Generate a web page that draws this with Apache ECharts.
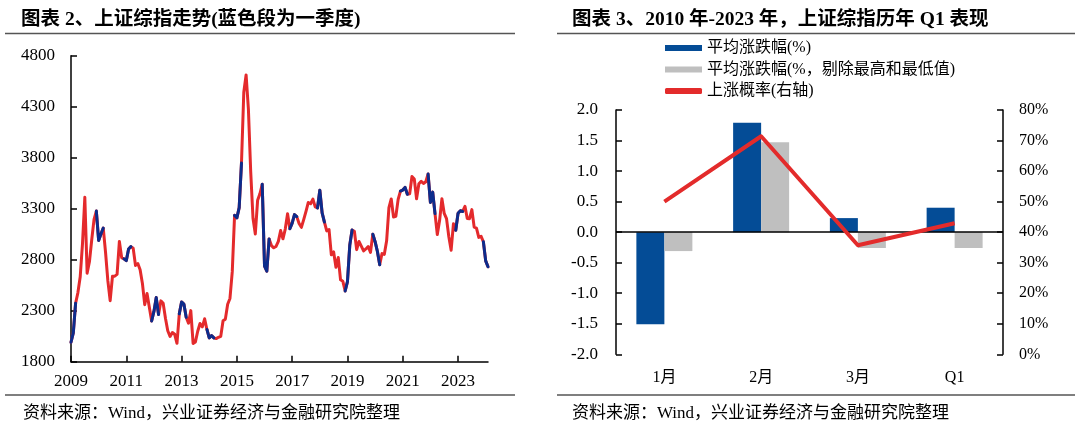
<!DOCTYPE html>
<html>
<head>
<meta charset="utf-8">
<script src="https://cdn.jsdelivr.net/npm/echarts@6/dist/echarts.min.js"></script>
<style>
html,body{margin:0;padding:0;background:#fff;}
#c{width:1080px;height:426px;}
</style>
</head>
<body>
<div id="c"></div>
<script>
// ---------- Left chart data: Shanghai Composite monthly closes, Jan 2009 .. Jan 2024 (+ early Feb 2024) ----------
const shIndex = [
  1990.66, 2082.85, 2373.21, 2477.57, 2632.93, 2959.36, 3412.06, 2667.75, 2779.43, 2995.85, 3195.30, 3277.14, // 2009
  2989.29, 3051.94, 3109.10, 2870.61, 2592.15, 2398.37, 2637.50, 2638.80, 2655.66, 2978.84, 2820.18, 2808.08, // 2010
  2790.69, 2905.05, 2928.11, 2911.51, 2743.47, 2762.08, 2701.73, 2567.34, 2359.22, 2468.25, 2333.41, 2199.42, // 2011
  2292.61, 2428.49, 2262.79, 2396.32, 2372.23, 2225.43, 2103.63, 2047.52, 2086.17, 2068.88, 1980.12, 2269.13, // 2012
  2385.42, 2365.59, 2236.62, 2177.91, 2300.60, 1979.21, 1993.80, 2098.38, 2174.67, 2141.61, 2220.50, 2115.98, // 2013
  2033.08, 2056.30, 2033.31, 2026.36, 2039.21, 2048.33, 2201.56, 2217.20, 2363.87, 2420.18, 2682.84, 3234.68, // 2014
  3210.36, 3310.30, 3747.90, 4441.66, 4611.74, 4277.22, 3663.73, 3205.99, 3052.78, 3382.56, 3445.40, 3539.18, // 2015
  2737.60, 2687.98, 3003.92, 2938.32, 2916.62, 2929.61, 2979.34, 3085.49, 3004.70, 3100.49, 3250.03, 3103.64, // 2016
  3159.17, 3241.73, 3222.51, 3154.66, 3117.18, 3192.43, 3273.03, 3360.81, 3348.94, 3393.34, 3317.19, 3307.17, // 2017
  3480.83, 3259.41, 3168.90, 3082.23, 3095.47, 2847.42, 2876.40, 2725.25, 2821.35, 2602.78, 2588.19, 2493.90, // 2018
  2584.57, 2940.95, 3090.76, 3078.34, 2898.70, 2978.88, 2932.51, 2886.24, 2905.19, 2929.06, 2871.98, 3050.12, // 2019
  2976.53, 2880.30, 2750.30, 2860.08, 2852.35, 2984.67, 3310.01, 3395.68, 3218.05, 3224.53, 3391.76, 3473.07, // 2020
  3483.07, 3509.08, 3441.91, 3446.86, 3615.48, 3591.20, 3397.36, 3543.94, 3568.17, 3547.34, 3563.89, 3639.78, // 2021
  3361.44, 3462.31, 3252.20, 3047.06, 3186.43, 3398.62, 3253.24, 3202.14, 3024.39, 2893.48, 3151.34, 3089.26, // 2022
  3255.67, 3279.61, 3272.86, 3323.27, 3204.56, 3202.06, 3291.04, 3119.88, 3110.48, 3018.77, 3029.67, 2974.93, // 2023
  2788.55, 2730.15                                                                                             // 2024
];
const leftYTicks = [1800, 2300, 2800, 3300, 3800, 4300, 4800];
const leftXTickYears = ['2009', '2011', '2013', '2015', '2017', '2019', '2021', '2023'];

// ---------- Right chart data ----------
const q1Categories = ['1月', '2月', '3月', 'Q1'];
const avgChange = [-1.51, 1.79, 0.23, 0.40];
const avgChangeTrimmed = [-0.31, 1.47, -0.26, -0.26];
const upProbability = [50.0, 71.4, 35.7, 42.9];
const rightLeftTicks = [-2.0, -1.5, -1.0, -0.5, 0.0, 0.5, 1.0, 1.5, 2.0];
const rightRightTicks = [0, 10, 20, 30, 40, 50, 60, 70, 80];

// ---------- build categories / masks ----------
const months = [];
for (let i = 0; i < shIndex.length; i++) {
  if (i < 181) {
    const y = 2009 + Math.floor(i / 12);
    const m = (i % 12) + 1;
    months.push(y + '-' + (m < 10 ? '0' + m : m));
  } else {
    months.push('2024-02-02');
  }
}
function monthOf(i) { return i < 181 ? i % 12 : 1; }
const q1Series = shIndex.map((v, i) => {
  const m = monthOf(i);
  return (m === 11 || m <= 2) ? v : null;
});

const serif = '"Liberation Serif", "Times New Roman", "Noto Sans CJK SC", serif';
const RED = '#E42A2C';
const NAVY = '#0C2C8C';

const chart = echarts.init(document.getElementById('c'), null, {renderer: 'canvas'});
chart.setOption({
  animation: false,
  backgroundColor: '#fff',
  textStyle: {fontFamily: serif, color: '#000'},
  title: [
    {text: '图表 2、上证综指走势(蓝色段为一季度)', left: 16, top: 5,
     textStyle: {fontFamily: serif, fontSize: 19.5, fontWeight: 'bold', color: '#000'}},
    {text: '图表 3、2010 年-2023 年，上证综指历年 Q1 表现', left: 567, top: 5,
     textStyle: {fontFamily: serif, fontSize: 19.5, fontWeight: 'bold', color: '#000'}},
    {text: '资料来源：Wind，兴业证券经济与金融研究院整理', left: 18, top: 400,
     textStyle: {fontFamily: serif, fontSize: 17, fontWeight: 'normal', color: '#000'}},
    {text: '资料来源：Wind，兴业证券经济与金融研究院整理', left: 567, top: 400,
     textStyle: {fontFamily: serif, fontSize: 17, fontWeight: 'normal', color: '#000'}}
  ],
  graphic: [
    {type: 'line', shape: {x1: 5, y1: 33.5, x2: 515, y2: 33.5}, style: {stroke: '#555', lineWidth: 1.5}, silent: true},
    {type: 'line', shape: {x1: 557, y1: 33.5, x2: 1075, y2: 33.5}, style: {stroke: '#555', lineWidth: 1.5}, silent: true},
    {type: 'line', shape: {x1: 5, y1: 395, x2: 515, y2: 395}, style: {stroke: '#555', lineWidth: 1.5}, silent: true},
    {type: 'line', shape: {x1: 557, y1: 395, x2: 1075, y2: 395}, style: {stroke: '#555', lineWidth: 1.5}, silent: true}
  ],
  legend: {
    orient: 'vertical', left: 660, top: 35,
    itemWidth: 37, itemHeight: 6, itemGap: 5.5,
    textStyle: {fontFamily: serif, fontSize: 16, color: '#000'},
    data: [
      {name: '平均涨跌幅(%)', icon: 'rect'},
      {name: '平均涨跌幅(%，剔除最高和最低值)', icon: 'rect'},
      {name: '上涨概率(右轴)', icon: 'roundRect'}
    ],
    selectedMode: false
  },
  grid: [
    {left: 71, top: 55.7, width: 417, height: 306, outerBoundsMode: 'none', containLabel: false},
    {left: 616, top: 110, width: 387, height: 244.3, outerBoundsMode: 'none', containLabel: false}
  ],
  xAxis: [
    {
      gridIndex: 0, type: 'category', data: months, boundaryGap: false,
      axisLine: {show: true, lineStyle: {color: '#000', width: 1.5}},
      axisTick: {show: true, inside: true, length: 6, lineStyle: {color: '#000', width: 1.5},
                 interval: (idx) => idx % 24 === 0},
      axisLabel: {
        interval: (idx, val) => idx % 24 === 0 && leftXTickYears.indexOf(String(val).slice(0, 4)) >= 0,
        formatter: (v) => String(v).slice(0, 4),
        fontFamily: serif, fontSize: 17, color: '#000', margin: 11
      },
      splitLine: {show: false}
    },
    {
      gridIndex: 1, type: 'category', data: q1Categories, boundaryGap: true,
      axisLine: {show: false, onZero: false},
      axisTick: {show: false},
      axisLabel: {fontFamily: serif, fontSize: 16, color: '#000', margin: 15},
      splitLine: {show: false}
    }
  ],
  yAxis: [
    {
      gridIndex: 0, type: 'value', min: 1800, max: 4800,
      axisLine: {show: true, lineStyle: {color: '#000', width: 1.5}},
      axisTick: {show: true, inside: true, length: 6, lineStyle: {color: '#000', width: 1.5}, customValues: leftYTicks},
      axisLabel: {customValues: leftYTicks, formatter: (v) => String(Math.round(v)),
                  fontFamily: serif, fontSize: 17, color: '#000', margin: 16},
      splitLine: {show: false}
    },
    {
      gridIndex: 1, type: 'value', min: -2, max: 2, interval: 0.5,
      axisLine: {show: true, lineStyle: {color: '#000', width: 1.5}},
      axisTick: {show: true, inside: true, length: 6, lineStyle: {color: '#000', width: 1.5}},
      axisLabel: {fontFamily: serif, fontSize: 17, color: '#000', margin: 18,
                  formatter: (v) => (Math.abs(v) < 1e-9 ? 0 : v).toFixed(1)},
      splitLine: {show: false}
    },
    {
      gridIndex: 1, type: 'value', min: 0, max: 80, interval: 10, position: 'right',
      axisLine: {show: true, lineStyle: {color: '#000', width: 1.5}},
      axisTick: {show: true, inside: true, length: 6, lineStyle: {color: '#000', width: 1.5}},
      axisLabel: {fontFamily: serif, fontSize: 16, color: '#000', margin: 16, formatter: '{value}%'},
      splitLine: {show: false}
    }
  ],
  series: [
    {
      name: '上证综指', type: 'line', xAxisIndex: 0, yAxisIndex: 0,
      data: shIndex, symbol: 'none', smooth: false,
      lineStyle: {color: RED, width: 3, join: 'round', cap: 'round'}, itemStyle: {color: RED},
      z: 2
    },
    {
      name: '一季度', type: 'line', xAxisIndex: 0, yAxisIndex: 0,
      data: q1Series, symbol: 'none', smooth: false, connectNulls: false,
      lineStyle: {color: NAVY, width: 3, join: 'round', cap: 'round'}, itemStyle: {color: NAVY},
      z: 3
    },
    {
      name: '平均涨跌幅(%)', type: 'bar', xAxisIndex: 1, yAxisIndex: 1,
      data: avgChange, barWidth: 28, barGap: '0%',
      itemStyle: {color: '#044C96'},
      markLine: {
        silent: true, symbol: 'none', label: {show: false},
        lineStyle: {color: '#000', width: 1.5, type: 'solid'},
        data: [{yAxis: 0}]
      },
      z: 2
    },
    {
      name: '平均涨跌幅(%，剔除最高和最低值)', type: 'bar', xAxisIndex: 1, yAxisIndex: 1,
      data: avgChangeTrimmed, barWidth: 28, barGap: '0%',
      itemStyle: {color: '#BFBFBF'},
      z: 2
    },
    {
      name: '上涨概率(右轴)', type: 'line', xAxisIndex: 1, yAxisIndex: 2,
      data: upProbability, symbol: 'none',
      lineStyle: {color: '#E32B2B', width: 4, join: 'round'}, itemStyle: {color: '#E32B2B'},
      z: 5
    }
  ]
});
</script>
</body>
</html>
